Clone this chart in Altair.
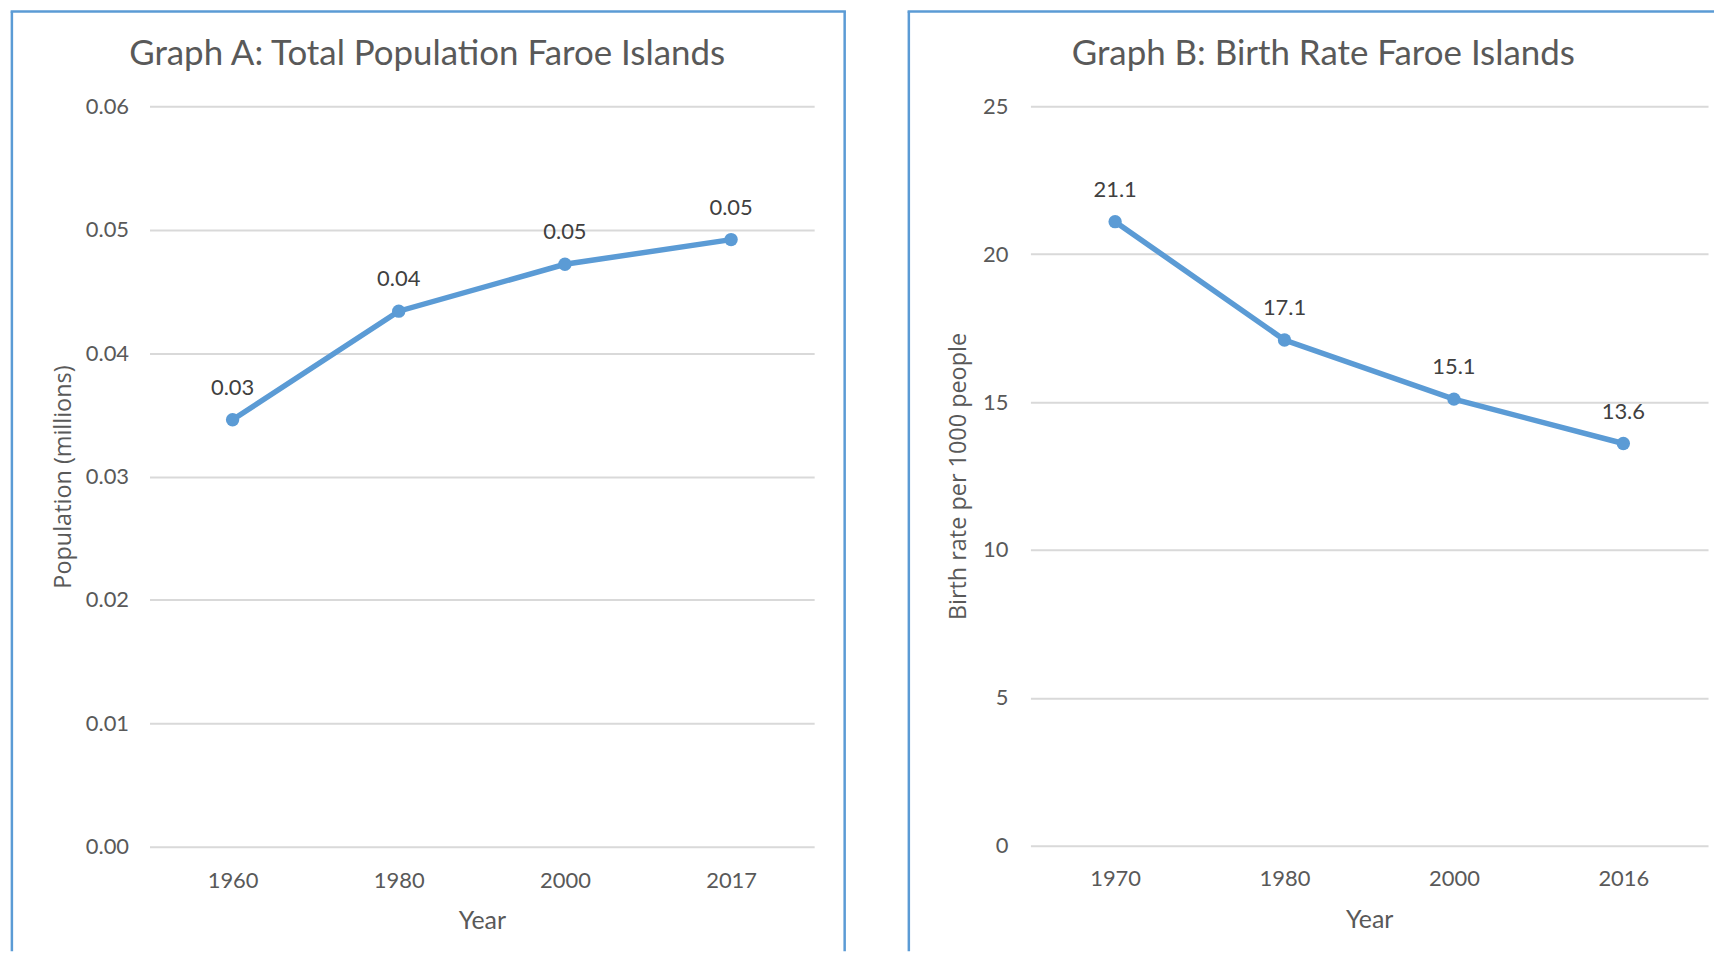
import altair as alt
import pandas as pd

# ---- data ----
years_a = ["1960", "1980", "2000", "2017"]
population_a = [0.0346, 0.0434, 0.0472, 0.0492]
years_b = ["1970", "1980", "2000", "2016"]
birth_rate_b = [21.1, 17.1, 15.1, 13.6]
ticks_a = [0, 0.01, 0.02, 0.03, 0.04, 0.05, 0.06]
ticks_b = [0, 5, 10, 15, 20, 25]
title_a = "Graph A: Total Population Faroe Islands"
title_b = "Graph B: Birth Rate Faroe Islands"
ytitle_a = "Population (millions)"
ytitle_b = "Birth rate per 1000 people"
xtitle = "Year"

BLUE = "#5B9BD5"
BORDER = "#5B9BD5"
TXT = "#595959"
LBL = "#404040"
FONT = "Lato"
YFONT = "Open Sans"

df_a = pd.DataFrame({"year": years_a, "value": population_a})
df_b = pd.DataFrame({"year": years_b, "value": birth_rate_b})


def panel(df, domain, ticks, tick_fmt, lbl_fmt, ytitle, title, width, height,
          ytitle_x, label_pad, x_label_pad, title_x, left_x, right_x, top_right_x):
    x = alt.X("year:O", sort=None, title=xtitle,
              axis=alt.Axis(labelAngle=0, labelPadding=x_label_pad, labelBaseline="middle",
                            labelFont=FONT, labelFontSize=22, labelColor=TXT,
                            domain=False, ticks=False, tickSize=0,
                            grid=False, titleY=74, titleBaseline="middle",
                            titleFont=FONT, titleFontSize=25, titleFontWeight="normal",
                            titleColor=TXT))
    y = alt.Y("value:Q", scale=alt.Scale(domain=domain, nice=False, zero=True),
              axis=alt.Axis(values=ticks, format=tick_fmt, title=ytitle, grid=True,
                            gridColor="#D9D9D9", gridWidth=2,
                            labelFont=FONT, labelFontSize=22, labelColor=TXT,
                            domain=False, ticks=False, tickSize=0,
                            labelPadding=label_pad, titleX=ytitle_x,
                            titleBaseline="middle", titleAngle=270,
                            titleFont=YFONT, titleFontSize=23.5, titleFontWeight="normal",
                            titleColor=TXT))
    base = alt.Chart(df)
    line = base.mark_line(color=BLUE, strokeWidth=5.5).encode(x=x, y=y)
    pts = base.mark_circle(color=BLUE, size=180, opacity=1).encode(x=x, y=y)
    labels = base.mark_text(dy=-32, font=FONT, fontSize=22, color=LBL,
                            baseline="middle").encode(
        x=x, y=y, text=alt.Text("value:Q", format=lbl_fmt))

    one = pd.DataFrame({"t": [title]})
    ttl = alt.Chart(one).mark_text(font=FONT, fontSize=35, color=TXT,
                                   align="center", baseline="middle").encode(
        x=alt.value(title_x), y=alt.value(-52.5), text="t:N")

    top_y = -95.25
    bot_y = 848
    layers = []
    layers.append(alt.Chart(one).mark_rule(color=BORDER, strokeWidth=2.5).encode(
        x=alt.value(left_x), y=alt.value(top_y), y2=alt.value(bot_y)))
    layers.append(alt.Chart(one).mark_rule(color=BORDER, strokeWidth=2.5).encode(
        x=alt.value(left_x - 1.25), x2=alt.value(top_right_x), y=alt.value(top_y)))
    if right_x is not None:
        layers.append(alt.Chart(one).mark_rule(color=BORDER, strokeWidth=2.5).encode(
            x=alt.value(right_x), y=alt.value(top_y), y2=alt.value(bot_y)))
    layers += [line, pts, labels, ttl]
    return alt.layer(*layers).properties(width=width, height=height)


pa = panel(df_a, [0, 0.06], ticks_a, ".2f", ".2f", ytitle_a, title_a, 667, 743,
           -86, 21, 34, 278.6, -138.1, 697.6, 698.85)
pb = panel(df_b, [0, 25], ticks_b, "d", ".1f", ytitle_b, title_b, 680, 742,
           -72, 22.5, 33, 293.9, -122, None, 686)

chart = alt.hconcat(pa, pb, spacing=58).properties(
    padding={"left": 1, "top": 0, "right": 0, "bottom": 0},
    background="white"
).configure_axis(
    labelFont=FONT, labelFontSize=22, labelColor=TXT, domain=False, ticks=False,
    tickSize=0, gridColor="#D9D9D9", gridWidth=2
).configure_view(strokeWidth=0)

chart.save("out.html", embed_options={"renderer": "svg", "actions": False})
